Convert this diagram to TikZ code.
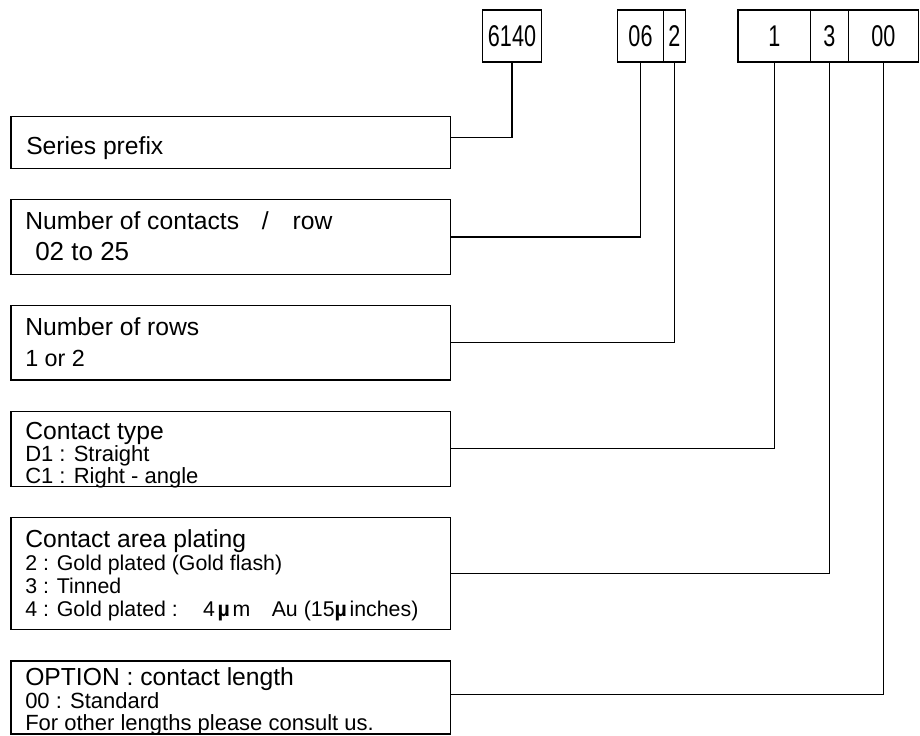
\documentclass[tikz,border=0pt]{standalone}
\usepackage{fontspec}
\setmainfont{Liberation Sans}
\newfontfamily\digitfont[FakeStretch=0.72]{Liberation Sans}
\usetikzlibrary{positioning}

\begin{document}
\begin{tikzpicture}[
  x=0.75pt, y=-0.75pt,
  field/.style={draw, line width=0.9pt, inner sep=0pt, outer sep=0pt, minimum height=39pt,
    font=\digitfont\fontsize{22.5}{24}\selectfont},
  partbox/.style={draw, line width=0.9pt, inner sep=0pt, outer sep=0pt, minimum width=329.6pt, anchor=north west},
  head/.style={anchor=base west, inner sep=0pt, font=\fontsize{18.5}{20}\selectfont},
  detail/.style={anchor=base west, inner sep=0pt, font=\fontsize{16.5}{18}\selectfont},
  link/.style={line width=0.8pt}
]
\useasboundingbox (0,0) rectangle (920,735);

% code fields
\node[field, minimum width=44.25pt] (f6140) at (512,36) {6140};
\node[field, minimum width=34.2pt] (f06) at (640.5,36) {06};
\node[field, minimum width=16.5pt, right=0pt of f06] (f2) {2};
\node[field, minimum width=54.5pt] (f1) at (774.35,36) {1};
\node[field, minimum width=28.2pt, right=0pt of f1] (f3) {3};
\node[field, minimum width=52.5pt, right=0pt of f3] (f00) {00};

% description boxes
\node[partbox, minimum height=38.7pt] (prefix) at (11,116.7) {};
\node[head] (prefixT) at (26,154) {Series prefix};

\node[partbox, minimum height=56.25pt] (contacts) at (11,199.5) {};
\node[head] (contactsT) at (25,229.3) {Number of contacts\hspace{17pt}/\hspace{18pt}row};
\node[detail, font=\fontsize{19.5}{21}\selectfont] (contactsA) at (35,260) {02 to 25};

\node[partbox, minimum height=55.7pt] (rows) at (11,305.7) {};
\node[head] (rowsT) at (25,335.7) {Number of rows};
\node[detail, font=\fontsize{17.5}{19}\selectfont] (rowsA) at (25,366.7) {1 or 2};

\node[partbox, minimum height=56.4pt] (ctype) at (11,411.3) {};
\node[head] (ctypeT) at (25,439.3) {Contact type};
\node[detail] (ctypeA) at (25,461) {D1 : Straight};
\node[detail] (ctypeB) at (25,483.3) {C1 : Right - angle};

\node[partbox, minimum height=84pt] (plating) at (11,517.3) {};
\node[head] (platingT) at (25,547.3) {Contact area plating};
\node[detail, font=\fontsize{16}{18}\selectfont] (platingA) at (25,570.7) {2 : Gold plated (Gold flash)};
\node[detail, font=\fontsize{16}{18}\selectfont] (platingB) at (25,593.3) {3 : Tinned};
\node[detail, font=\fontsize{16}{18}\selectfont] (platingC) at (25,616.7)
  {4 : Gold plated :\hspace{19pt}4\hspace{2pt}\textbf{µ}\hspace{2pt}m\hspace{16pt}Au (15\textbf{µ}\hspace{2pt}inches)};

\node[partbox, minimum height=54.75pt] (option) at (11,661) {};
\node[head] (optionT) at (25,685) {OPTION : contact length};
\node[detail] (optionA) at (25,708.3) {00 : Standard};
\node[detail] (optionB) at (25,730) {For other lengths please consult us.};

% leader lines
\draw[link] (f6140.south) |- ([yshift=3.6pt]prefix.east);
\draw[link] (f06.south) |- (contacts.east);
\draw[link] (f2.south) |- (rows.east);
\draw[link] (f1.south) |- (ctype.east);
\draw[link] (f3.south) |- (plating.east);
\draw[link] (f00.south) |- ([yshift=2.2pt]option.east);

\end{tikzpicture}
\end{document}
